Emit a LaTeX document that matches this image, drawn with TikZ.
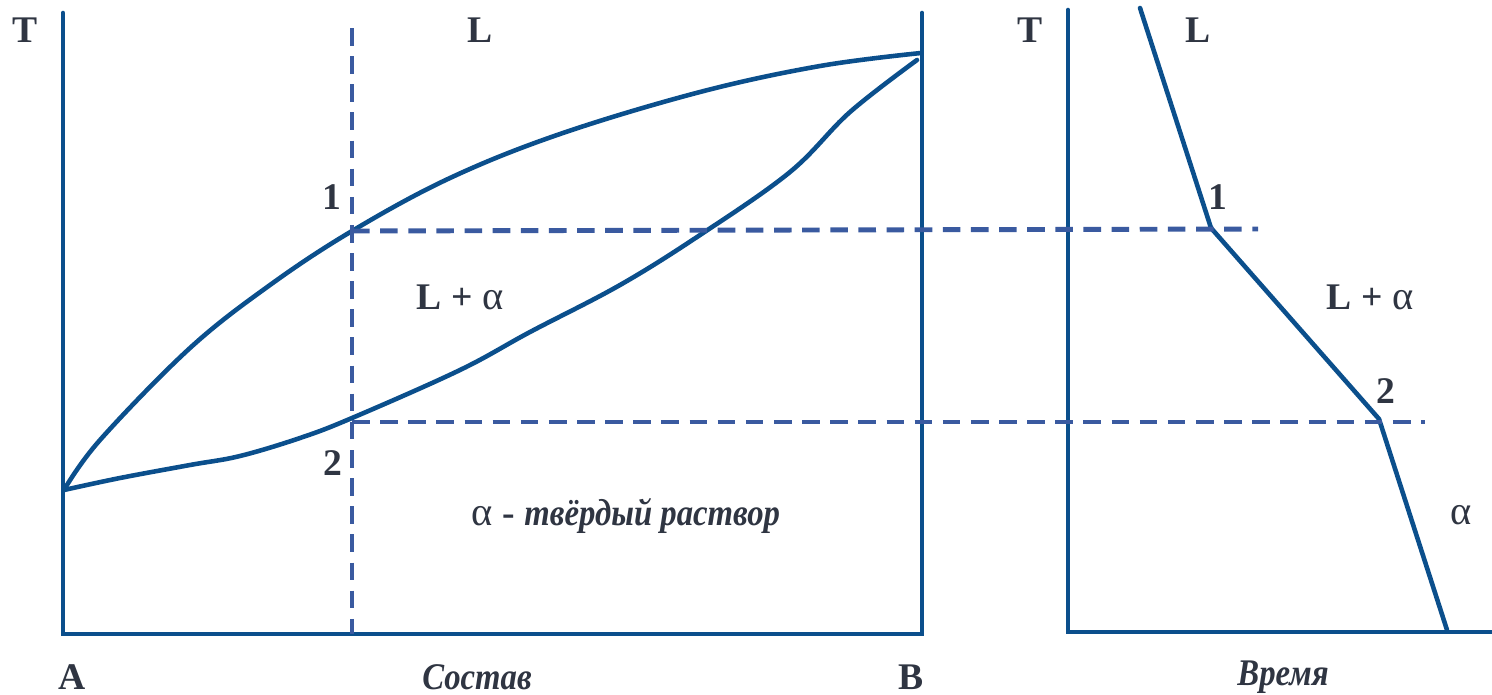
\documentclass[tikz,border=0pt]{standalone}
\usepackage{fontspec}
\setmainfont{Liberation Serif}
\usepackage{graphicx}
\usepackage{tikz}
\usetikzlibrary{calc,positioning}
\definecolor{axisblue}{HTML}{0B4F8C}
\definecolor{dashblue}{HTML}{3A5AA0}
\definecolor{labelgray}{HTML}{2F3542}
\newcommand{\alp}{{\mdseries\fontsize{11.5}{12}\selectfont α}}
\newcommand{\itlbl}[1]{\scalebox{0.87}[1]{\itshape #1}}
\tikzset{
    myaxis/.style={line width=1.3pt,draw=axisblue,line cap=round},
    mycurve/.style={line width=1.3pt,draw=axisblue,line cap=round,line join=round},
    mydash/.style={line width=1.4pt,draw=dashblue,dash pattern=on 5pt off 3pt},
    every node/.style={font=\fontsize{10.7}{12}\selectfont\bfseries,text=labelgray,inner sep=0pt}
}
\begin{document}
\begin{tikzpicture}[x=0.01cm,y=-0.01cm]
  \useasboundingbox (0,0) rectangle (1492,694);
  % composition diagram
  \coordinate (A0) at (63,13);
  \coordinate (A) at (63,634);
  \coordinate (B0) at (922,13);
  \coordinate (B) at (922,634);
  \coordinate (liqA) at (64,490);
  \coordinate (liqB) at (921,53);
  \coordinate (p1) at (352,231);
  \coordinate (p2) at (352,418);
  \draw[myaxis] (A0)--(A)--(B)--(B0);
  \draw[mycurve] plot[smooth,tension=0.6] coordinates {(liqA) (100,440) (190,348) (270,285) (p1) (450,178) (560,134) (700,92) (820,66) (liqB)};
  \draw[mycurve] plot[smooth,tension=0.6] coordinates {(liqA) (120,478) (190,465) (240,456) (300,438) (p2) (460,370) (530,332) (620,285) (700,235) (790,172) (850,112) (917,60)};
  \draw[mydash] (352,28)--(352,634);
  % cooling curve
  \coordinate (T0) at (1068,10);
  \coordinate (O) at (1068,632);
  \coordinate (tEnd) at (1492,632);
  \coordinate (c0) at (1140,8);
  \coordinate (c1) at (1211,228);
  \coordinate (c2) at (1379,419);
  \coordinate (c3) at (1447,630);
  \draw[myaxis] (T0)--(O)--(tEnd);
  \draw[mycurve] (c0)--(c1)--(c2)--(c3);
  \draw[mydash] (p1)--(1258,229);
  \draw[mydash] (352,422)--(1425,422);
  % labels
  \node (lblT) at (25,30) {T};
  \node (lblL) at (480,30) {L};
  \node (lbl1) at (332,197) {1};
  \node (lbl2) at (333,463) {2};
  \node (lblLa) at (460,297) {L + \alp};
  \node (lblSol) at (626,516) {\alp\ - \itlbl{твёрдый раствор}};
  \node (lblA) at (72,677) {A};
  \node (lblSost) at (477,677) {\itlbl{Состав}};
  \node (lblB) at (911,677) {B};
  \node (lblT2) at (1030,30) {T};
  \node (lblL2) at (1198,30) {L};
  \node (lbl1b) at (1218,197) {1};
  \node (lblLa2) at (1370,297) {L + \alp};
  \node (lbl2b) at (1386,391) {2};
  \node (lblal) at (1461,515) {\alp};
  \node (lblVr) at (1283,677) {\itlbl{Время}};
\end{tikzpicture}
\end{document}
